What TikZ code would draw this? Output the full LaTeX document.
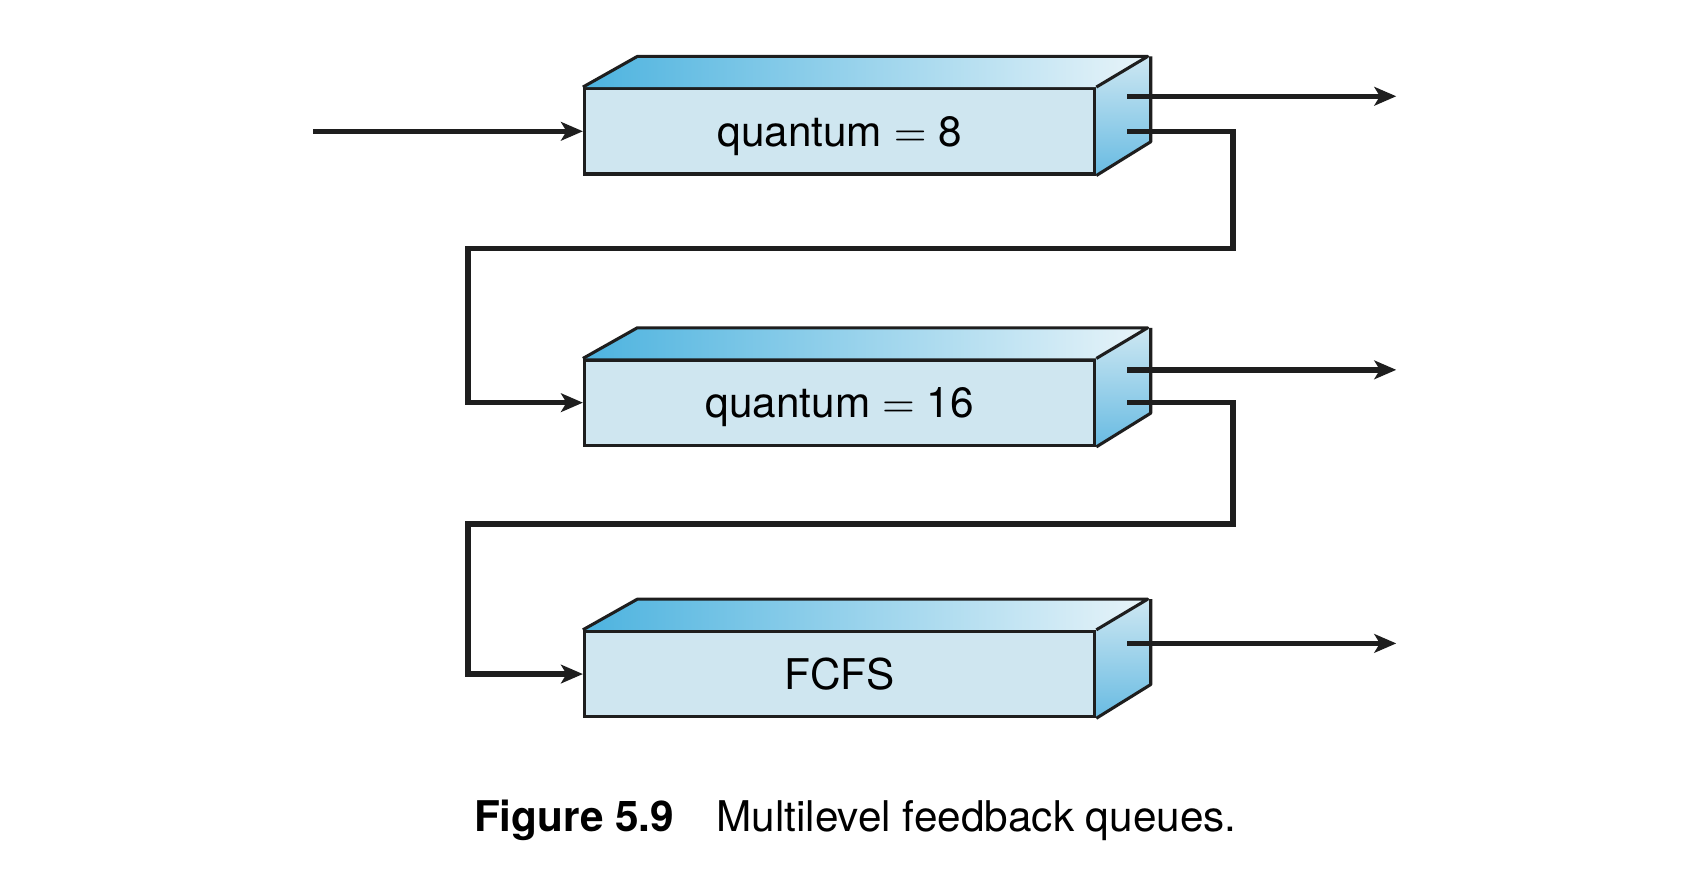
\documentclass[tikz,border=0pt]{standalone}
\usepackage{fontspec}
\setmainfont{TeX Gyre Heros}
\usetikzlibrary{arrows.meta}

\definecolor{frontblue}{RGB}{207,230,240}
\definecolor{topdark}{RGB}{77,179,223}
\definecolor{toplight}{RGB}{232,244,249}
\definecolor{sidedark}{RGB}{104,187,226}
\definecolor{sidelight}{RGB}{205,231,242}
\definecolor{linegray}{RGB}{30,30,30}

\begin{document}
\begin{tikzpicture}[
  queue/.style={draw=linegray, line width=0.8pt, fill=frontblue, minimum width=4.664cm,
    minimum height=0.78cm, inner sep=0pt, text depth=0pt, font=\fontsize{11}{13}\selectfont},
  face/.style={draw=linegray, line width=0.8pt, line join=round},
  flow/.style={draw=linegray, line width=1.4pt,
    -{Stealth[length=0.2cm,width=0.17cm,inset=0.05cm]}}]
  \useasboundingbox (0cm,0cm) rectangle (15.6cm,-8.18cm);

  % queue 1
  \node[queue] (q8) at (7.673cm,-1.2cm) {quantum $=$ 8};
  \shade[left color=topdark, right color=toplight] (q8.north west) -- ++(0.497cm,0.28cm) -- ++(4.664cm,0cm) -- (q8.north east) -- cycle;
  \shade[top color=sidelight, bottom color=sidedark] (q8.north east) -- ++(0.497cm,0.28cm) -- ++(0cm,-0.78cm) -- (q8.south east) -- cycle;
  \draw[face] (q8.north west) -- ++(0.497cm,0.28cm) -- ++(4.664cm,0cm) -- (q8.north east);
  \draw[face] (q8.north east) ++(0.497cm,0.28cm) -- ++(0cm,-0.78cm) -- (q8.south east);

  % queue 2
  \node[queue] (q16) at (7.673cm,-3.68cm) {quantum $=$ 16};
  \shade[left color=topdark, right color=toplight] (q16.north west) -- ++(0.497cm,0.28cm) -- ++(4.664cm,0cm) -- (q16.north east) -- cycle;
  \shade[top color=sidelight, bottom color=sidedark] (q16.north east) -- ++(0.497cm,0.28cm) -- ++(0cm,-0.78cm) -- (q16.south east) -- cycle;
  \draw[face] (q16.north west) -- ++(0.497cm,0.28cm) -- ++(4.664cm,0cm) -- (q16.north east);
  \draw[face] (q16.north east) ++(0.497cm,0.28cm) -- ++(0cm,-0.78cm) -- (q16.south east);

  % queue 3
  \node[queue] (fcfs) at (7.673cm,-6.16cm) {FCFS};
  \shade[left color=topdark, right color=toplight] (fcfs.north west) -- ++(0.497cm,0.28cm) -- ++(4.664cm,0cm) -- (fcfs.north east) -- cycle;
  \shade[top color=sidelight, bottom color=sidedark] (fcfs.north east) -- ++(0.497cm,0.28cm) -- ++(0cm,-0.78cm) -- (fcfs.south east) -- cycle;
  \draw[face] (fcfs.north west) -- ++(0.497cm,0.28cm) -- ++(4.664cm,0cm) -- (fcfs.north east);
  \draw[face] (fcfs.north east) ++(0.497cm,0.28cm) -- ++(0cm,-0.78cm) -- (fcfs.south east);

  % arrivals and exits
  \coordinate (arrive) at (2.864cm,-1.2cm);
  \draw[flow] (arrive) -- (q8.west);
  \coordinate (q8out) at (10.303cm,-0.88cm);
  \coordinate (q8done) at (12.76cm,-0.88cm);
  \draw[flow] (q8out) -- (q8done);
  \coordinate (q16out) at (10.303cm,-3.38cm);
  \coordinate (q16done) at (12.76cm,-3.38cm);
  \draw[flow] (q16out) -- (q16done);
  \coordinate (fcfsout) at (10.303cm,-5.88cm);
  \coordinate (fcfsdone) at (12.76cm,-5.88cm);
  \draw[flow] (fcfsout) -- (fcfsdone);

  % demotion paths
  \coordinate (q8down) at (10.303cm,-1.2cm);
  \draw[flow] (q8down) -- (11.268cm,-1.2cm) -- (11.268cm,-2.27cm) -- (4.276cm,-2.27cm) -- (4.276cm,-3.68cm) -- (q16.west);
  \coordinate (q16down) at (10.303cm,-3.68cm);
  \draw[flow] (q16down) -- (11.268cm,-3.68cm) -- (11.268cm,-4.79cm) -- (4.276cm,-4.79cm) -- (4.276cm,-6.16cm) -- (fcfs.west);

  \node (caption) at (7.817cm,-7.5cm) {\fontsize{11}{13}\selectfont\textbf{Figure 5.9}\quad Multilevel feedback queues.};
\end{tikzpicture}
\end{document}
